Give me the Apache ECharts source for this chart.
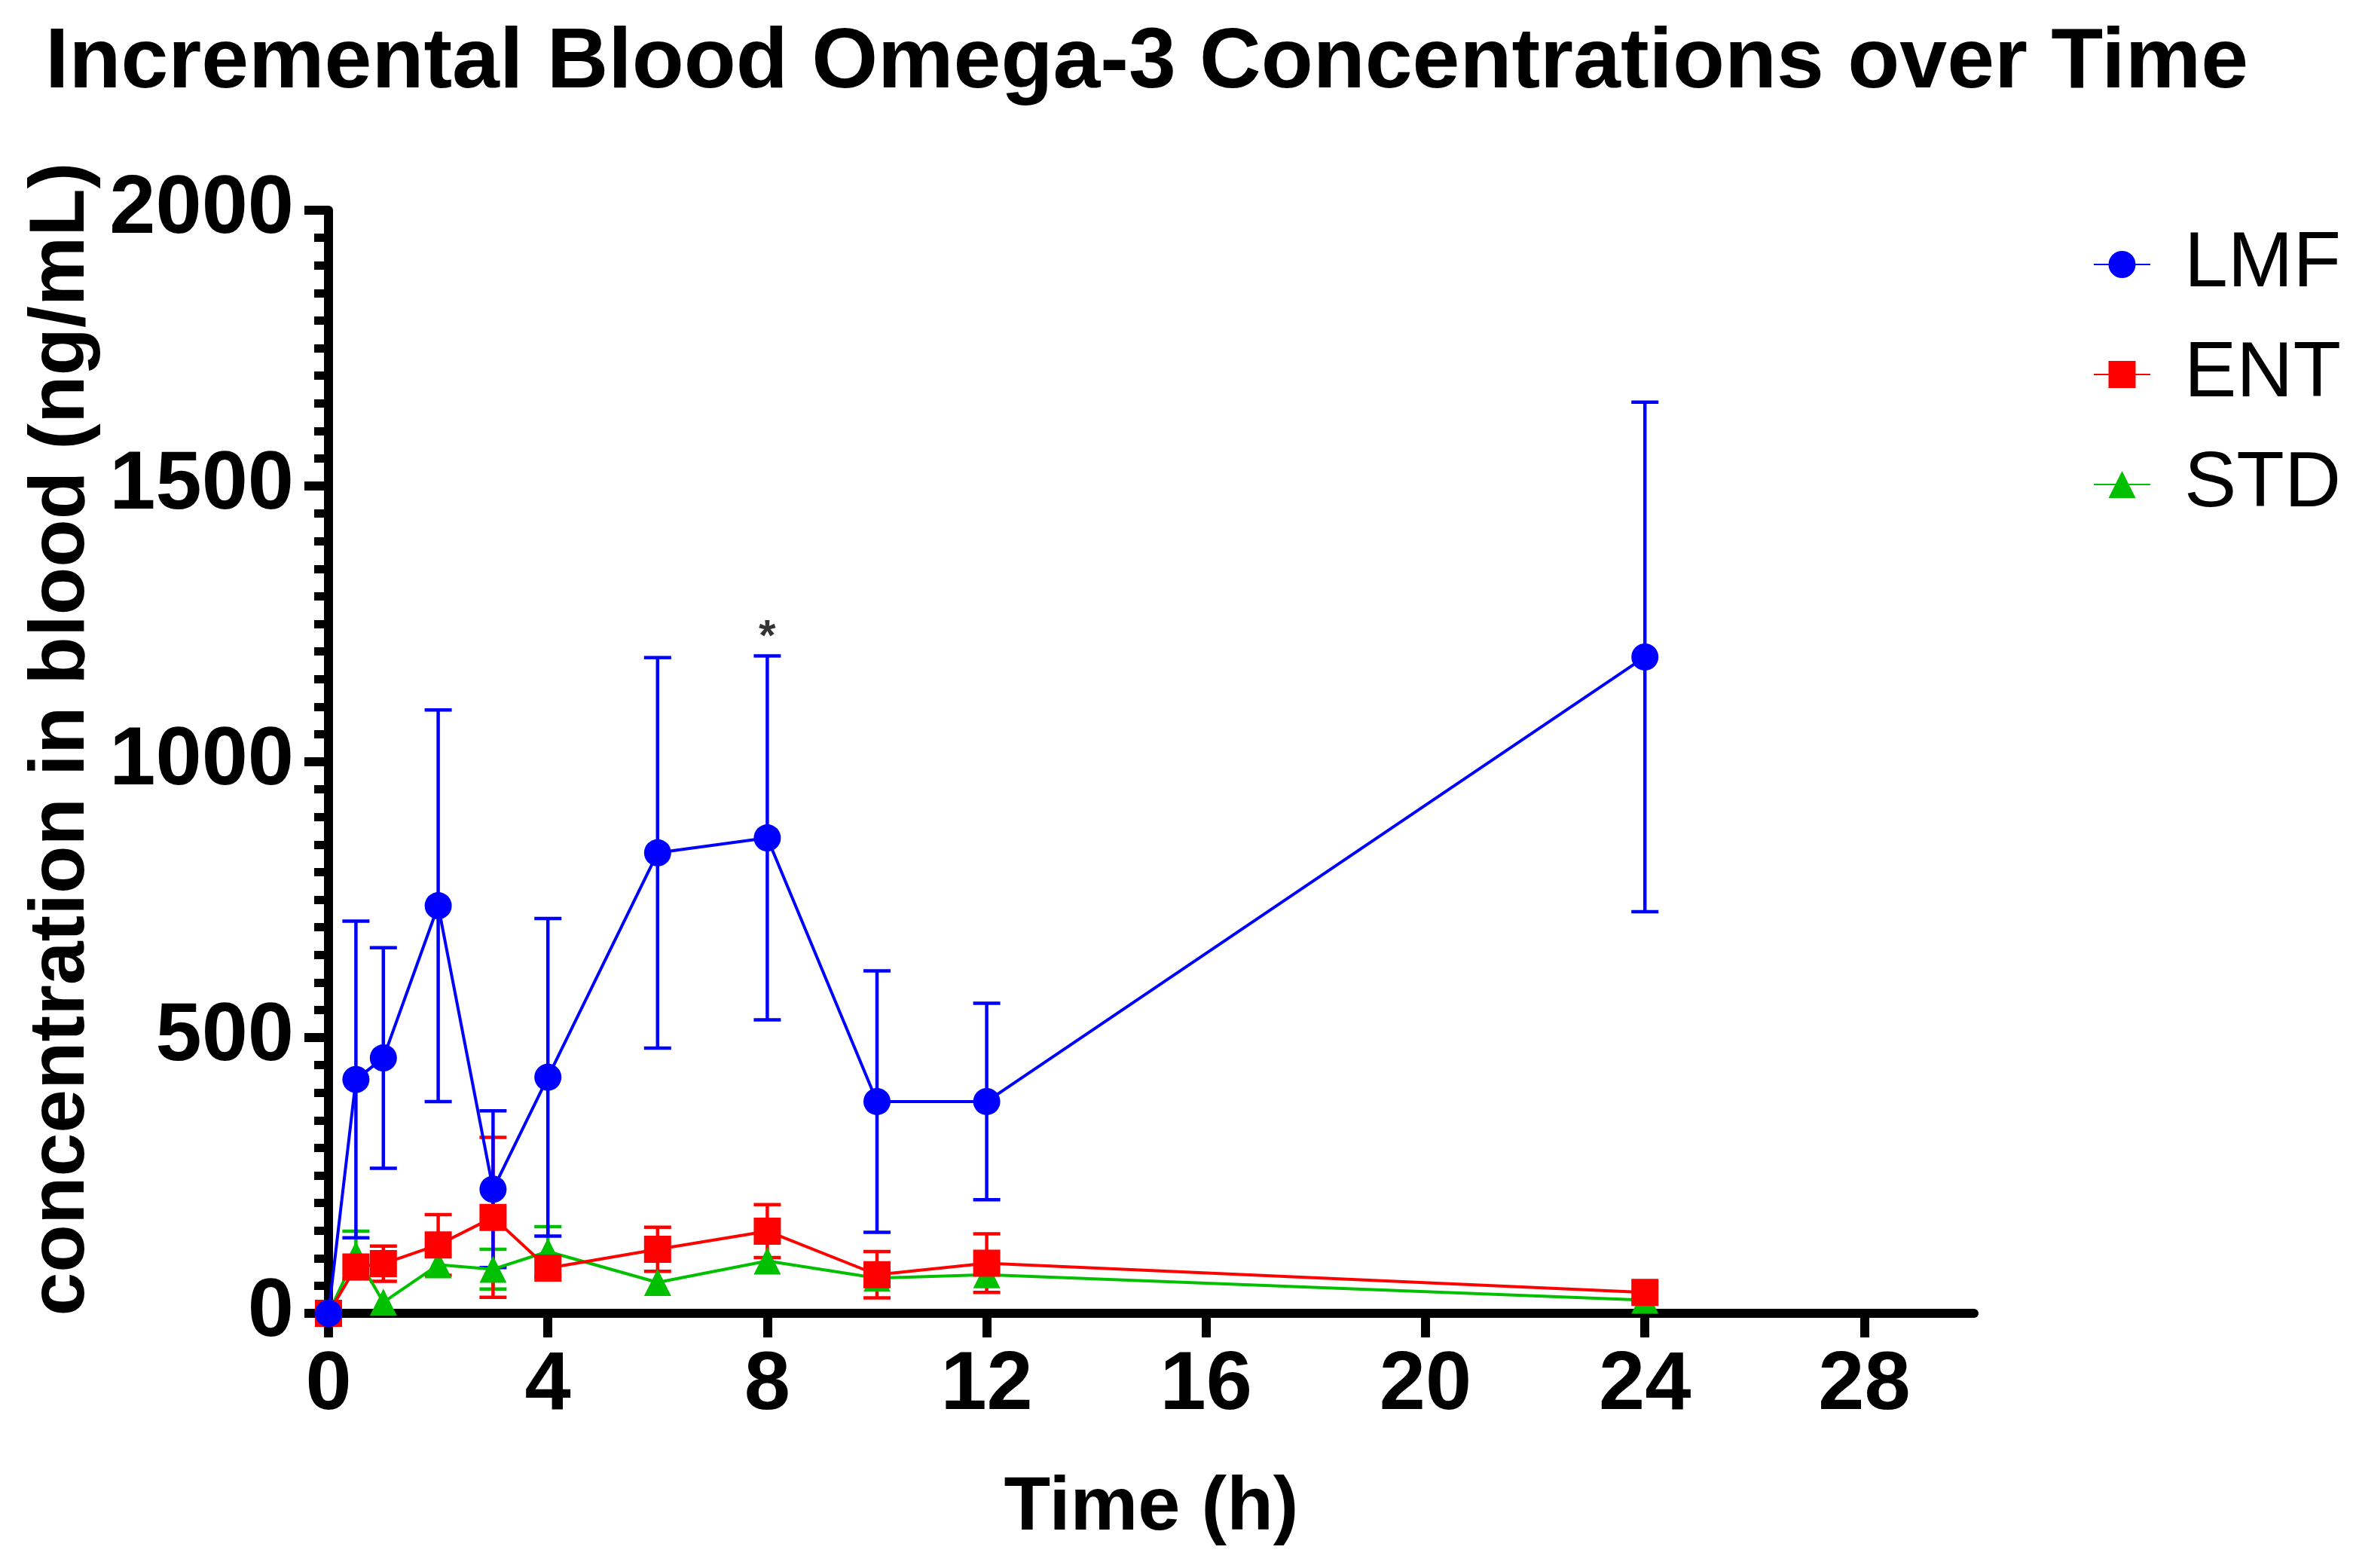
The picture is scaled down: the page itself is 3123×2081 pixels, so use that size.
<!DOCTYPE html>
<html>
<head>
<meta charset="utf-8">
<script src="https://cdn.jsdelivr.net/npm/echarts@6/dist/echarts.min.js"></script>
<style>
html,body{margin:0;padding:0;background:#fff;}
#chart{width:3123px;height:2081px;}
</style>
</head>
<body>
<div id="chart"></div>
<script>
// ---- data ----
const timeH   = [0, 0.5, 1, 2, 3, 4, 6, 8, 10, 12, 24];
const lmfMean = [0, 424, 463, 739, 225, 428, 835, 862, 384, 384, 1190];
const lmfErr  = [0, 287, 200, 355, 142, 288, 354, 330, 237, 178, 462];
const entMean = [0, 84, 90, 124, 174, 82, 116, 149, 70, 91, 38];
const entErr  = [0, 20, 32, 55, 145, 15, 40, 48, 42, 53, 10];
const stdMean = [0, 106, 20, 88, 80, 112, 56, 95, 64, 70, 24];
const stdErr  = [0, 43, 15, 20, 36, 45, 15, 15, 12, 12, 8];
const xTicks  = [0, 4, 8, 12, 16, 20, 24, 28];
const sigTimes = [8];           // time points marked with "*"
const seriesNames = ['LMF', 'ENT', 'STD'];

const FONT = "'Liberation Sans', Arial, sans-serif";
const BLUE = '#0000ff', RED = '#ff0000', GREEN = '#00c000';
const SYM = 36;

function pts(mean) { return timeH.map((t, i) => [t, mean[i]]); }
function errPts(mean, err) { return timeH.map((t, i) => [t, mean[i], err[i]]); }

function errRenderer(color) {
  return function (params, api) {
    const x = api.value(0), m = api.value(1), e = api.value(2);
    const c = api.coord([x, m]);
    const top = api.coord([x, m + e]);
    const bot = api.coord([x, m - e]);
    const half = SYM / 2;
    // like Prism: bars shorter than the symbol radius are not drawn
    if (c[1] - top[1] <= half) return null;
    const st = { stroke: color, lineWidth: 4.5 };
    return {
      type: 'group',
      children: [
        { type: 'line', shape: { x1: top[0], y1: top[1], x2: bot[0], y2: bot[1] }, style: st },
        { type: 'line', shape: { x1: top[0] - half, y1: top[1], x2: top[0] + half, y2: top[1] }, style: st },
        { type: 'line', shape: { x1: bot[0] - half, y1: bot[1], x2: bot[0] + half, y2: bot[1] }, style: st }
      ]
    };
  };
}

function errSeries(name, mean, err, color) {
  return {
    type: 'custom', name: name + '_err', data: errPts(mean, err),
    renderItem: errRenderer(color), silent: true, clip: false,
    encode: { x: 0, y: [1] }
  };
}
function lineSeries(name, mean, color, symbol) {
  return {
    type: 'line', name: name, data: pts(mean),
    symbol: symbol, symbolSize: SYM, showAllSymbol: true,
    lineStyle: { color: color, width: 4 },
    itemStyle: { color: color },
    emphasis: { disabled: true }
  };
}

const chart = echarts.init(document.getElementById('chart'), null, { renderer: 'canvas' });
chart.setOption({
  animation: false,
  backgroundColor: '#fff',
  title: {
    text: 'Incremental Blood Omega-3 Concentrations over Time',
    left: 60, top: 28, padding: 0,
    textStyle: { fontFamily: FONT, fontSize: 113, fontWeight: 'bold', color: '#000' }
  },
  legend: {
    data: seriesNames,
    orient: 'vertical', left: 2778, top: 299, padding: 0,
    itemWidth: 75, itemHeight: 45, itemGap: 42,
    textStyle: { fontFamily: FONT, fontSize: 104, color: '#000', padding: [0, 0, 0, 40] }
  },
  grid: { left: 436, right: 503, top: 279, bottom: 338, containLabel: false },
  xAxis: {
    type: 'value', min: 0, max: 30,
    name: 'Time (h)', nameLocation: 'middle', nameGap: 209,
    nameTextStyle: { fontFamily: FONT, fontSize: 101, fontWeight: 'bold', color: '#000' },
    axisLine: { show: true, onZero: false, lineStyle: { color: '#000', width: 12 } },
    axisTick: { show: true, customValues: xTicks, length: 32, lineStyle: { color: '#000', width: 12 } },
    axisLabel: { customValues: xTicks, margin: 42, fontFamily: FONT, fontSize: 110, fontWeight: 'bold', color: '#000',
                 formatter: v => String(v) },
    splitLine: { show: false }
  },
  yAxis: {
    type: 'value', min: 0, max: 2000, interval: 500,
    name: 'concentration in blood (ng/mL)', nameLocation: 'middle', nameGap: 294,
    nameTextStyle: { fontFamily: FONT, fontSize: 104, fontWeight: 'bold', color: '#000', padding: [0, 0, 0, 60] },
    axisLine: { show: true, onZero: false, lineStyle: { color: '#000', width: 12 } },
    axisTick: { show: true, length: 32, lineStyle: { color: '#000', width: 12 } },
    minorTick: { show: true, splitNumber: 10, length: 19, lineStyle: { color: '#000', width: 11 } },
    axisLabel: { margin: 46, fontFamily: FONT, fontSize: 110, fontWeight: 'bold', color: '#000',
                 formatter: v => String(v) },
    splitLine: { show: false }, minorSplitLine: { show: false }
  },
  series: [
    errSeries('STD', stdMean, stdErr, GREEN),
    lineSeries('STD', stdMean, GREEN, 'triangle'),
    errSeries('ENT', entMean, entErr, RED),
    lineSeries('ENT', entMean, RED, 'rect'),
    errSeries('LMF', lmfMean, lmfErr, BLUE),
    lineSeries('LMF', lmfMean, BLUE, 'circle'),
    {
      type: 'scatter', name: 'sig', symbolSize: 0, silent: true,
      data: sigTimes.map(t => { const i = timeH.indexOf(t); return [t, lmfMean[i] + lmfErr[i]]; }),
      label: { show: true, position: 'top', distance: -6, formatter: '*',
               fontFamily: FONT, fontSize: 58, fontWeight: 'bold', color: '#000' }
    }
  ]
});
</script>
</body>
</html>
